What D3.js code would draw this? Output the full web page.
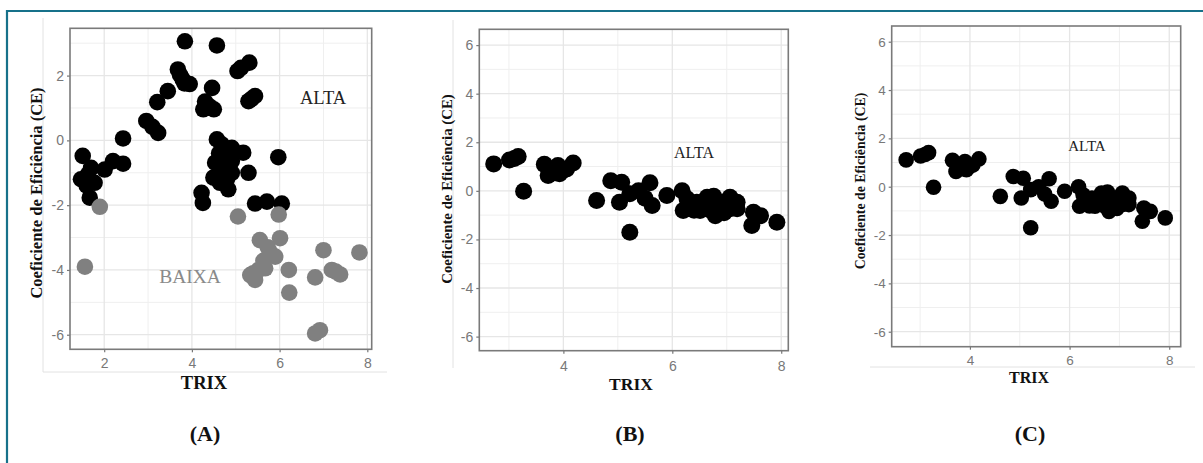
<!DOCTYPE html>
<html>
<head>
<meta charset="utf-8">
<script src="https://cdn.jsdelivr.net/npm/d3@7"></script>
<style>
  html, body { margin: 0; padding: 0; background: #fff; }
  svg { display: block; }
</style>
</head>
<body>
<svg id="chart" width="1203" height="463"></svg>
<script>
// ---------------- DATA ----------------
const xLabel = "TRIX";
const yLabel = "Coeficiente de Eficiência (CE)";
const panelLabels = ["(A)", "(B)", "(C)"];

// Panel A: ALTA (black) and BAIXA (gray) groups, [TRIX, CE]
const altaA = [
  [1.51,-0.48],[1.47,-1.2],[1.63,-1.05],[1.78,-1.31],[1.7,-0.85],[1.67,-1.77],[1.6,-1.4],
  [2.01,-0.9],[2.2,-0.64],[2.43,-0.72],[2.43,0.06],[2.96,0.6],[3.1,0.42],[3.23,0.23],
  [3.21,1.18],[3.45,1.52],[3.68,2.19],[3.73,2.02],[3.79,1.88],[3.83,1.76],[3.95,1.74],
  [3.84,3.06],[4.57,2.93],[5.04,2.14],[5.12,2.24],[5.31,2.4],[4.46,1.62],[4.3,1.2],
  [4.26,0.96],[4.4,1.05],[4.5,0.96],[5.29,1.21],[5.36,1.28],[5.44,1.37],[4.57,0.03],
  [4.68,-0.12],[4.91,-0.23],[5.17,-0.38],[4.53,-0.69],[4.91,-0.64],[5.97,-0.52],
  [5.29,-1.0],[4.49,-1.15],[4.64,-1.31],[4.83,-1.51],[4.91,-1.0],[4.75,-0.9],[4.8,-1.2],
  [4.62,-0.4],[4.72,-0.7],[4.87,-0.45],[4.22,-1.62],[4.25,-1.93],[5.44,-1.95],
  [5.71,-1.89],[6.05,-1.95]
];
const baixaA = [
  [1.9,-2.05],[1.56,-3.9],[5.05,-2.35],[5.98,-2.29],[6.01,-3.02],[5.55,-3.08],[5.73,-3.3],
  [5.78,-3.45],[5.9,-3.59],[5.63,-3.72],[5.52,-4.0],[5.4,-4.1],[5.33,-4.16],[5.44,-4.31],
  [5.67,-3.95],[6.21,-4.0],[6.22,-4.7],[6.81,-4.23],[7.0,-3.39],[7.19,-4.0],[7.28,-4.05],
  [7.38,-4.14],[7.82,-3.46],[6.81,-5.96],[6.92,-5.86]
];

// Panels B and C: ALTA group, [TRIX, CE]
const altaB = [
  [2.72,1.11],[3.01,1.27],[3.1,1.33],[3.17,1.41],[3.27,-0.02],[3.65,1.09],[3.72,0.63],
  [3.75,0.9],[3.85,0.75],[3.9,1.04],[3.93,0.7],[4.0,0.85],[4.06,0.9],[4.18,1.15],
  [4.61,-0.4],[4.87,0.42],[5.07,0.35],[5.03,-0.47],[5.22,-0.12],[5.22,-1.7],[5.38,0.0],
  [5.5,-0.3],[5.59,0.33],[5.63,-0.6],[5.9,-0.19],[6.18,0.0],[6.27,-0.33],[6.2,-0.81],
  [6.3,-0.55],[6.45,-0.47],[6.4,-0.8],[6.6,-0.55],[6.64,-0.26],[6.76,-0.22],[6.51,-0.81],
  [6.7,-0.8],[6.79,-1.02],[6.85,-0.65],[6.94,-0.47],[7.06,-0.26],[7.19,-0.47],[7.06,-0.74],
  [7.19,-0.74],[6.95,-0.9],[7.49,-0.88],[7.62,-1.02],[7.46,-1.43],[7.92,-1.29]
];
const altaC = altaB.slice();

const xTicksA = [2, 4, 6, 8];
const yTicksA = [-6, -4, -2, 0, 2];
const xMinorA = [3, 5, 7];
const yMinorA = [-5, -3, -1, 1, 3];
const xTicksBC = [4, 6, 8];
const yTicksBC = [-6, -4, -2, 0, 2, 4, 6];
const xMinorBC = [3, 5, 7];
const yMinorBC = [-5, -3, -1, 1, 3, 5];

// ---------------- LAYOUT ----------------
const svg = d3.select("#chart");

// outer teal frame (left + top)
svg.append("line").attr("x1", 7).attr("x2", 7).attr("y1", 10).attr("y2", 463)
  .attr("stroke", "#17718a").attr("stroke-width", 2.2);
svg.append("line").attr("x1", 6).attr("x2", 1203).attr("y1", 11).attr("y2", 11)
  .attr("stroke", "#17718a").attr("stroke-width", 2.2);

const panels = [
  {
    groups: [{ data: altaA, color: "#000" }, { data: baixaA, color: "#808080" }],
    box: { l: 70, r: 371.7, t: 28.3, b: 349.3 },
    xDom: [1.22, 8.1], yDom: [-6.45, 3.46],
    xTicks: xTicksA, yTicks: yTicksA, xMinor: xMinorA, yMinor: yMinorA,
    r: 8.3, tickFont: 14, xLabOff: 13,
    yTitle: { x: 36, y: 193, size: 16.5 },
    xTitle: { x: 204, y: 383, size: 18.5 },
    notes: [{ text: "ALTA", x: 323, y: 98, size: 18.5, color: "#222" },
            { text: "BAIXA", x: 190, y: 276, size: 19.5, color: "#8a8a8a" }],
    frame: [{ x1: 43, y1: 18, x2: 43, y2: 372 }, { x1: 43, y1: 372, x2: 387, y2: 372 }],
    label: { text: panelLabels[0], x: 205, y: 433 }
  },
  {
    groups: [{ data: altaB, color: "#000" }],
    box: { l: 479.3, r: 788.3, t: 29.3, b: 350.7 },
    xDom: [2.456, 8.13], yDom: [-6.58, 6.65],
    xTicks: xTicksBC, yTicks: yTicksBC, xMinor: xMinorBC, yMinor: yMinorBC,
    r: 8.5, tickFont: 14, xLabOff: 14.5,
    yTitle: { x: 447, y: 189, size: 14.8 },
    xTitle: { x: 631, y: 384, size: 17.5 },
    notes: [{ text: "ALTA", x: 694, y: 152, size: 16, color: "#222" }],
    frame: [{ x1: 453, y1: 20, x2: 453, y2: 368 }],
    label: { text: panelLabels[1], x: 630, y: 433 }
  },
  {
    groups: [{ data: altaC, color: "#000" }],
    box: { l: 891.7, r: 1180.7, t: 26, b: 346.7 },
    xDom: [2.43, 8.23], yDom: [-6.62, 6.65],
    xTicks: xTicksBC, yTicks: yTicksBC, xMinor: xMinorBC, yMinor: yMinorBC,
    r: 7.8, tickFont: 13.5, xLabOff: 13.5,
    yTitle: { x: 860, y: 181, size: 13.8 },
    xTitle: { x: 1029, y: 377, size: 16 },
    notes: [{ text: "ALTA", x: 1087, y: 146, size: 15, color: "#222" }],
    frame: [{ x1: 870, y1: 367, x2: 1195, y2: 367 }],
    label: { text: panelLabels[2], x: 1030, y: 433 }
  }
];

panels.forEach(p => {
  const g = svg.append("g");
  const x = d3.scaleLinear().domain(p.xDom).range([p.box.l, p.box.r]);
  const y = d3.scaleLinear().domain(p.yDom).range([p.box.b, p.box.t]);

  // faint frame of pasted image
  p.frame.forEach(f => g.append("line").attr("x1", f.x1).attr("y1", f.y1)
    .attr("x2", f.x2).attr("y2", f.y2).attr("stroke", "#e2e2e2").attr("stroke-width", 1));

  // minor grid
  g.selectAll(".vminor").data(p.xMinor).join("line")
    .attr("x1", d => x(d)).attr("x2", d => x(d)).attr("y1", p.box.t).attr("y2", p.box.b)
    .attr("stroke", "#efefef").attr("stroke-width", 1);
  g.selectAll(".hminor").data(p.yMinor).join("line")
    .attr("y1", d => y(d)).attr("y2", d => y(d)).attr("x1", p.box.l).attr("x2", p.box.r)
    .attr("stroke", "#efefef").attr("stroke-width", 1);
  // major grid
  g.selectAll(".vmajor").data(p.xTicks).join("line")
    .attr("x1", d => x(d)).attr("x2", d => x(d)).attr("y1", p.box.t).attr("y2", p.box.b)
    .attr("stroke", "#e6e6e6").attr("stroke-width", 1.3);
  g.selectAll(".hmajor").data(p.yTicks).join("line")
    .attr("y1", d => y(d)).attr("y2", d => y(d)).attr("x1", p.box.l).attr("x2", p.box.r)
    .attr("stroke", "#e6e6e6").attr("stroke-width", 1.3);

  // axes with d3
  const xAxis = d3.axisBottom(x).tickValues(p.xTicks).tickSize(3).tickPadding(3).tickFormat(d3.format("d"));
  const yAxis = d3.axisLeft(y).tickValues(p.yTicks).tickSize(3).tickPadding(3).tickFormat(d => d < 0 ? "-" + Math.abs(d) : String(d));
  const gx = g.append("g").attr("transform", `translate(0,${p.box.b})`).call(xAxis);
  const gy = g.append("g").attr("transform", `translate(${p.box.l},0)`).call(yAxis);
  [gx, gy].forEach(a => {
    a.select(".domain").remove();
    a.selectAll(".tick line").attr("stroke", "#777").attr("stroke-width", 1.2);
    a.selectAll(".tick text").attr("fill", "#787878")
      .attr("font-family", "'Liberation Sans', Arial, sans-serif").attr("font-size", p.tickFont);
  });
  gx.selectAll(".tick text").attr("y", p.xLabOff - 4.5);

  // points
  p.groups.forEach(grp => {
    g.append("g").selectAll("circle").data(grp.data).join("circle")
      .attr("cx", d => x(d[0])).attr("cy", d => y(d[1])).attr("r", p.r)
      .attr("fill", grp.color);
  });

  // panel border
  g.append("rect").attr("x", p.box.l).attr("y", p.box.t)
    .attr("width", p.box.r - p.box.l).attr("height", p.box.b - p.box.t)
    .attr("fill", "none").attr("stroke", "#7a7a7a").attr("stroke-width", 1.6);

  // annotations
  p.notes.forEach(n => g.append("text").attr("x", n.x).attr("y", n.y).attr("dy", "0.35em")
    .attr("text-anchor", "middle").attr("font-family", "'Liberation Serif', 'Times New Roman', serif")
    .attr("font-size", n.size).attr("fill", n.color).text(n.text));

  // axis titles
  g.append("text").attr("transform", `translate(${p.yTitle.x},${p.yTitle.y}) rotate(-90)`)
    .attr("dy", "0.35em").attr("text-anchor", "middle")
    .attr("font-family", "'Liberation Serif', 'Times New Roman', serif").attr("font-weight", "bold")
    .attr("font-size", p.yTitle.size).attr("fill", "#111").text(yLabel);
  g.append("text").attr("x", p.xTitle.x).attr("y", p.xTitle.y).attr("dy", "0.35em")
    .attr("text-anchor", "middle")
    .attr("font-family", "'Liberation Serif', 'Times New Roman', serif").attr("font-weight", "bold")
    .attr("font-size", p.xTitle.size).attr("fill", "#111").text(xLabel);

  // panel label
  g.append("text").attr("x", p.label.x).attr("y", p.label.y).attr("dy", "0.35em")
    .attr("text-anchor", "middle")
    .attr("font-family", "'Liberation Serif', 'Times New Roman', serif").attr("font-weight", "bold")
    .attr("font-size", 22).attr("fill", "#111").text(p.label.text);
});
</script>
</body>
</html>
